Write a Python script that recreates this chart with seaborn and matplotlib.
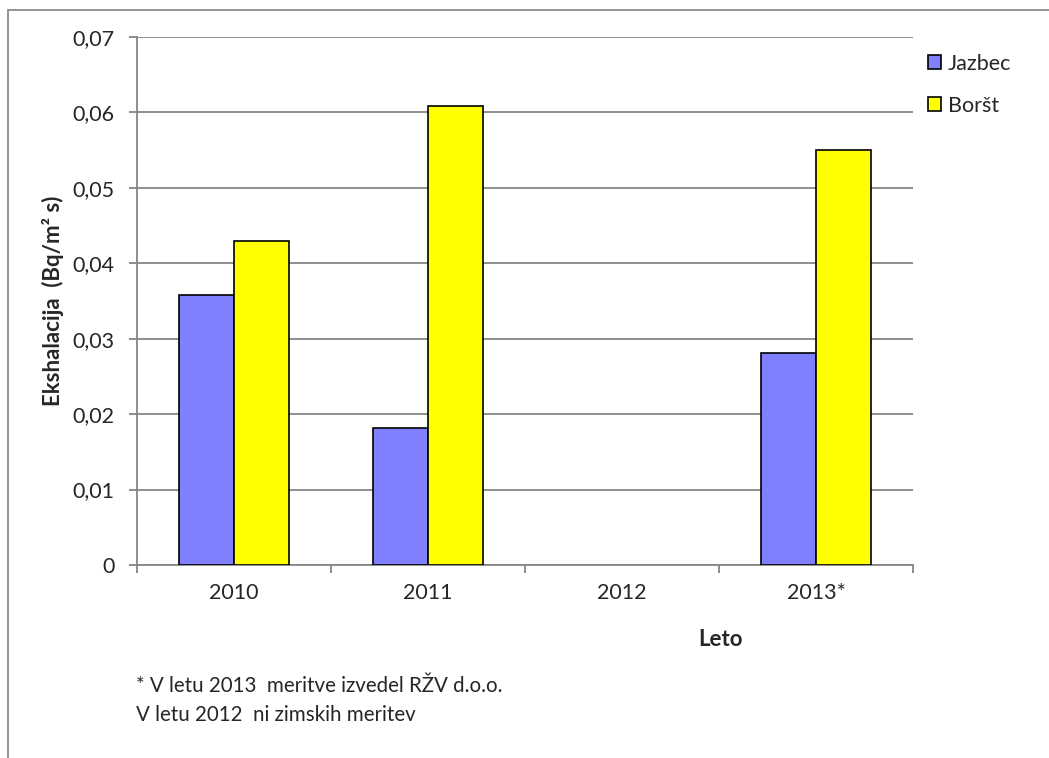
import matplotlib
matplotlib.use("Agg")
import matplotlib.pyplot as plt
import seaborn as sns
import pandas as pd
import numpy as np
from matplotlib.lines import Line2D
from matplotlib.ticker import FuncFormatter, FixedLocator

years = ["2010", "2011", "2012", "2013*"]
jazbec = [0.0358, 0.0182, np.nan, 0.0281]
borst = [0.0430, 0.0608, np.nan, 0.0550]
series = ["Jazbec", "Boršt"]
colors = ["#8080FF", "#FFFF00"]
yticks = [0, 0.01, 0.02, 0.03, 0.04, 0.05, 0.06, 0.07]

df = pd.DataFrame({
    "Leto": years * 2,
    "Serija": [series[0]] * len(years) + [series[1]] * len(years),
    "Vrednost": jazbec + borst,
})

sns.set_theme(style="white")
plt.rcParams["font.family"] = ["Lato", "DejaVu Sans"]

fs = 15.5

fig = plt.figure(figsize=(10.49, 7.58), dpi=100)
ax = fig.add_axes([137 / 1049, 1 - 565 / 758, (913 - 137) / 1049, (565 - 37) / 758])

sns.barplot(data=df, x="Leto", y="Vrednost", hue="Serija", order=years,
            hue_order=series, palette=colors, saturation=1, width=0.572, gap=0,
            errorbar=None, edgecolor="black", linewidth=1.2, ax=ax,
            legend=False, zorder=3)

grid_c = "#868686"
ax.set_ylim(0, 0.07)
ax.set_xlim(-0.5, 3.5)
ax.yaxis.set_major_locator(FixedLocator(yticks))
ax.yaxis.set_major_formatter(FuncFormatter(lambda v, p: "0" if v == 0 else f"{v:.2f}".replace(".", ",")))
ax.grid(axis="y", color=grid_c, linewidth=1.3, zorder=0)
ax.set_axisbelow(True)

ax.set_xticks([-0.5, 0.5, 1.5, 2.5, 3.5])
ax.set_xticklabels([])
ax.set_xticks([0, 1, 2, 3], minor=True)
ax.set_xticklabels(years, minor=True, fontsize=fs)
ax.tick_params(axis="x", which="major", length=6, width=1.3, color=grid_c, direction="out", bottom=True)
ax.tick_params(axis="x", which="minor", length=0, pad=13)
ax.tick_params(axis="y", length=6, width=1.3, color=grid_c, direction="out", left=True, labelsize=fs, pad=10)

for s in ["top", "right"]:
    ax.spines[s].set_visible(False)
for s in ["left", "bottom"]:
    ax.spines[s].set_color(grid_c)
    ax.spines[s].set_linewidth(1.3)

ax.set_xlabel("")
ax.set_ylabel("Ekshalacija  (Bq/m² s)", fontsize=16, fontweight="bold")
ax.yaxis.set_label_coords((64 - 137) / 776, 0.5)

fig.text(721 / 1049, 1 - 640 / 758, "Leto", fontsize=16, fontweight="bold", ha="center", va="center")

fig.text(136 / 1049, 1 - 686 / 758, "* V letu 2013  meritve izvedel RŽV d.o.o.", fontsize=14.8, ha="left", va="center")
fig.text(136 / 1049, 1 - 715 / 758, "V letu 2012  ni zimskih meritev", fontsize=14.8, ha="left", va="center")

handles = [plt.Rectangle((0, 0), 1, 1, facecolor=c, edgecolor="black", linewidth=1.2) for c in colors]
fig.legend(handles, series, loc="upper left", bbox_to_anchor=(928 / 1049, 1 - 54 / 758),
           frameon=False, fontsize=fs, handlelength=0.62, handleheight=0.62,
           handletextpad=0.3, labelspacing=1.0, borderaxespad=0, borderpad=0)

frame_c = "#8C8C8C"
fig.add_artist(Line2D([8 / 1049, 1], [1 - 10 / 758, 1 - 10 / 758], color=frame_c, linewidth=1.3, transform=fig.transFigure))
fig.add_artist(Line2D([8 / 1049, 8 / 1049], [1 - 10 / 758, 0], color=frame_c, linewidth=1.3, transform=fig.transFigure))

fig.savefig("out.png", dpi=100)
